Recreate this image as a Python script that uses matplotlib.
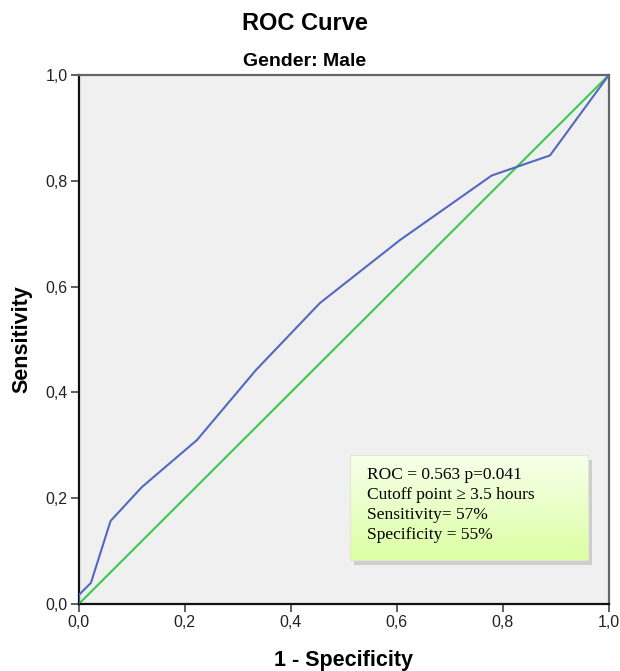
import matplotlib
matplotlib.use('Agg')
import matplotlib.pyplot as plt
import numpy as np
from matplotlib.patches import Rectangle

plt.rcParams['font.family'] = ['Liberation Sans', 'DejaVu Sans']

# ROC curve points
fpr = [0.0, 0.0, 0.023, 0.06, 0.119, 0.223, 0.334, 0.455, 0.606, 0.779, 0.889, 1.0]
tpr = [0.0, 0.017, 0.04, 0.157, 0.221, 0.31, 0.442, 0.569, 0.688, 0.81, 0.848, 1.0]
ref_line = [0.0, 1.0]
ticks = [0.0, 0.2, 0.4, 0.6, 0.8, 1.0]
tick_labels = ['0,0', '0,2', '0,4', '0,6', '0,8', '1,0']
box_lines = ['ROC = 0.563 p=0.041',
             'Cutoff point \u2265 3.5 hours',
             'Sensitivity= 57%',
             'Specificity = 55%']

fig = plt.figure(figsize=(6.2, 6.71), dpi=100)
ax = fig.add_axes([0.127, 0.0998, 0.855, 0.7884])
ax.set_facecolor('#f0f0f0')

ax.plot(ref_line, ref_line, color='#3cc84c', lw=1.5, zorder=2)
ax.plot(fpr, tpr, color='#5468c0', lw=1.5, zorder=3)

ax.set_xlim(0, 1)
ax.set_ylim(0, 1)
ax.set_xticks(ticks)
ax.set_xticklabels(tick_labels)
ax.set_yticks(ticks)
ax.set_yticklabels(tick_labels)
ax.tick_params(direction='out', length=6, width=1.2, pad=2, labelsize=11.5,
               color='#444444', labelcolor='#222222')
for s in ax.spines.values():
    s.set_color('#666666')
    s.set_linewidth(1.6)
ax.spines['left'].set_color('#111111')
ax.spines['bottom'].set_color('#111111')

ax.set_xlabel('1 - Specificity', fontsize=15.5, fontweight='bold', labelpad=14)
ax.set_ylabel('Sensitivity', fontsize=15.5, fontweight='bold', labelpad=9)

fig.text(305 / 620, 1 - 23 / 671, 'ROC Curve', ha='center', va='center',
         fontsize=17, fontweight='bold')
fig.text(305 / 620, 1 - 61 / 671, 'Gender: Male', ha='center', va='center',
         fontsize=14, fontweight='bold')

# annotation box with shadow and gradient
bx0, by0, bw, bh = 350 / 620, 1 - 560 / 671, 238 / 620, 105 / 671
shadow = Rectangle((bx0 + 0.006, by0 - 0.008), bw, bh, transform=fig.transFigure,
                   facecolor='#b8b8b8', edgecolor='none', alpha=0.6, zorder=5)
fig.patches.append(shadow)
bax = fig.add_axes([bx0, by0, bw, bh], zorder=6)
grad = np.linspace(0, 1, 100).reshape(-1, 1)
top = np.array([0.97, 1.0, 0.92])
bot = np.array([0.86, 1.0, 0.64])
img = top + (bot - top) * grad[:, :, None]
bax.imshow(img, aspect='auto', extent=[0, 1, 0, 1], origin='upper')
bax.set_xticks([])
bax.set_yticks([])
for s in bax.spines.values():
    s.set_color('#e0e8d0')
    s.set_linewidth(0.8)
for i, line in enumerate(box_lines):
    bax.text(0.07, 0.81 - i * 0.19, line, fontsize=12.5, va='center', ha='left',
             family=['Liberation Serif', 'DejaVu Serif'])

fig.savefig('out.png', dpi=100)
